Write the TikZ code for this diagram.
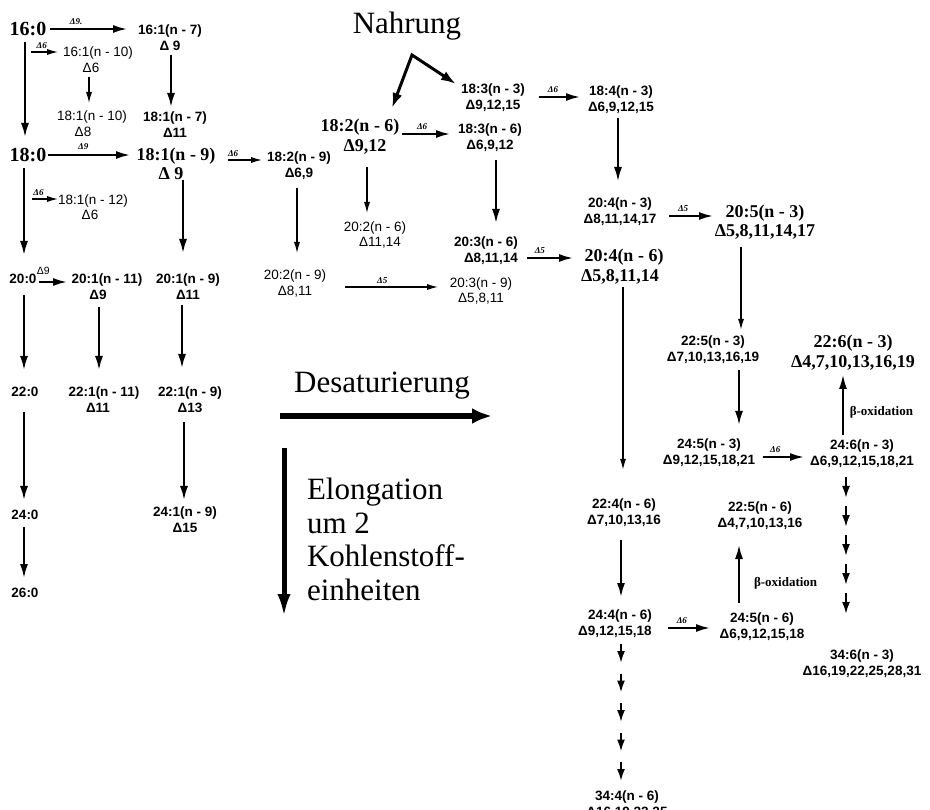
\documentclass[tikz,border=0pt]{standalone}
\usepackage{fontspec}
\setmainfont{Liberation Serif}
\newfontfamily\sansf{Liberation Sans}
\usetikzlibrary{arrows.meta,calc}
\newcommand\fBS{\sansf\bfseries\fontsize{13.5}{16}\selectfont}
\newcommand\fRS{\sansf\fontsize{13.5}{15.5}\selectfont}
\newcommand\fTB{\rmfamily\bfseries\fontsize{18}{19.5}\selectfont}
\newcommand\fTBL{\rmfamily\bfseries\fontsize{20}{22}\selectfont}
\newcommand\fTR{\rmfamily\fontsize{31}{33.7}\selectfont}
\newcommand\fD{\rmfamily\bfseries\itshape\fontsize{9}{10}\selectfont}
\newcommand\fDS{\sansf\fontsize{10.5}{12}\selectfont}
\newcommand\fBeta{\rmfamily\bfseries\fontsize{13}{14}\selectfont}
\begin{document}
\begin{tikzpicture}[x=1pt,y=-1pt,
  lab/.style={inner sep=0pt, outer sep=0pt, align=center},
  bs/.style={lab, font=\fBS},
  rs/.style={lab, font=\fRS},
  tb/.style={lab, font=\fTB},
  tbl/.style={lab, font=\fTBL},
  arr/.style={line width=2pt, -{Latex[length=14pt,width=8pt]}},
  tarr/.style={line width=1.1pt, -{Latex[length=11pt,width=6pt]}},
  charr/.style={line width=2pt, -{Latex[length=12pt,width=8pt]}},
  dl/.style={font=\fD, inner sep=0pt, above=3pt},
  beta/.style={font=\fBeta, inner sep=0pt, right=6pt},
  desatarr/.style={line width=6pt, -{Latex[length=20pt,width=16pt]}},
  elongarr/.style={line width=5pt, -{Latex[length=24pt,width=13pt]}},
  nahr/.style={line width=3pt, line join=miter, {Latex[length=15pt,width=10pt]}-{Latex[length=15pt,width=10pt]}},
]
\fill[white] (0,0) rectangle (930,810);
\useasboundingbox (0,0) rectangle (930,810);

% ---------- left block ----------
\node[tbl] (n160) at (28,29) {16:0};
\node[bs] (n161a) at (170,38) {16:1(n - 7)\\Δ 9};
\node[rs] (n161b) at (98,59.5) {16:1(n - 10)\\\hspace*{-14pt}Δ6};
\node[rs] (n181b) at (92,123.5) {18:1(n - 10)\\\hspace*{-18pt}Δ8};
\node[bs] (n181a) at (175,125) {18:1(n - 7)\\Δ11};
\node[tbl] (n180) at (28,155) {18:0};
\node[tb] (n181) at (176,164) {18:1(n - 9)\\\hspace*{-10pt}Δ 9};
\node[rs] (n181c) at (93,207) {18:1(n - 12)\\\hspace*{-6pt}Δ6};
\node[bs] (n200) at (23,279) {20:0};
\node[bs] (n201a) at (107,287) {20:1(n - 11)\\\hspace*{-18pt}Δ9};
\node[bs] (n201b) at (188,287) {20:1(n - 9)\\Δ11};
\node[bs] (n220) at (25,392) {22:0};
\node[bs] (n221a) at (104,400) {22:1(n - 11)\\\hspace*{-12pt}Δ11};
\node[bs] (n221b) at (190,400) {22:1(n - 9)\\Δ13};
\node[bs] (n240) at (25,515) {24:0};
\node[bs] (n241) at (185,520) {24:1(n - 9)\\Δ15};
\node[bs] (n260) at (25,593) {26:0};

% ---------- middle block ----------
\node[lab, font=\fTR] (nahrung) at (407,26) {Nahrung};
\node[bs] (n183a) at (493,97.5) {18:3(n - 3)\\Δ9,12,15};
\node[bs] (n184) at (621,99.5) {18:4(n - 3)\\Δ6,9,12,15};
\node[tb] (n182b) at (360,136.5) {18:2(n - 6)\\\hspace*{10pt}Δ9,12};
\node[bs] (n183b) at (490,138) {18:3(n - 6)\\Δ6,9,12};
\node[bs] (n182a) at (299,165.5) {18:2(n - 9)\\Δ6,9};
\node[rs] (n202b) at (375,235) {20:2(n - 6)\\\hspace*{10pt}Δ11,14};
\node[bs] (n203b) at (486,251) {20:3(n - 6)\\\hspace*{10pt}Δ8,11,14};
\node[rs] (n202a) at (295,283.5) {20:2(n - 9)\\Δ8,11};
\node[rs] (n203a) at (481,291) {20:3(n - 9)\\Δ5,8,11};

% ---------- right block ----------
\node[bs] (n204a) at (620,212) {20:4(n - 3)\\Δ8,11,14,17};
\node[tb] (n205) at (765,222) {20:5(n - 3)\\Δ5,8,11,14,17};
\node[tb] (n204b) at (624,266.5) {20:4(n - 6)\\\hspace*{-8pt}Δ5,8,11,14};
\node[bs] (n225a) at (713,350) {22:5(n - 3)\\Δ7,10,13,16,19};
\node[tb] (n226) at (853,352.5) {22:6(n - 3)\\Δ4,7,10,13,16,19};
\node[bs] (n245a) at (709,453) {24:5(n - 3)\\Δ9,12,15,18,21};
\node[bs] (n246) at (862,453.5) {24:6(n - 3)\\Δ6,9,12,15,18,21};
\node[bs] (n224) at (624,512.5) {22:4(n - 6)\\Δ7,10,13,16};
\node[bs] (n225b) at (760,515.5) {22:5(n - 6)\\Δ4,7,10,13,16};
\node[bs] (n244) at (620,624) {24:4(n - 6)\\\hspace*{-10pt}Δ9,12,15,18};
\node[bs] (n245b) at (762,627) {24:5(n - 6)\\Δ6,9,12,15,18};
\node[bs] (n346) at (862,663.5) {34:6(n - 3)\\Δ16,19,22,25,28,31};
\node[bs] (n344) at (627,804.5) {34:4(n - 6)\\Δ16,19,22,25};

% ---------- legend ----------
\node[lab, font=\fTR] (desat) at (382,386) {Desaturierung};
\node[lab, font=\fTR, align=left, anchor=north west] (elong) at (307,478) {Elongation\\um 2\\Kohlenstoff-\\einheiten};

% ---------- horizontal connectors ----------
\draw[arr] ([shift={(22,0)}]n160.center) -- ([shift={(-43,-9)}]n161a.center) node[dl,pos=0.34]{Δ9.};
\draw[tarr] ([shift={(3,23)}]n160.center) -- ([shift={(-40,-7.5)}]n161b.center) node[dl,pos=0.4]{Δ6};
\draw[arr] ([shift={(20,0)}]n180.center) -- ([shift={(-46,-9)}]n181.center) node[dl,pos=0.43,above=1pt]{Δ9};
\draw[tarr] ([shift={(4,44)}]n180.center) -- ([shift={(-35,-8)}]n181c.center) node[dl,pos=0.25]{Δ6};
\draw[tarr] ([shift={(52,-4)}]n181.center) -- ([shift={(-37,-5.5)}]n182a.center) node[dl,pos=0.15]{Δ6};
\draw[arr] ([shift={(16,3)}]n200.center) -- ([shift={(-40,-5)}]n201a.center) node[pos=0.15,above=6pt,font=\fDS,inner sep=0pt]{Δ9};
\draw[arr] ([shift={(42,-2.5)}]n182b.center) -- ([shift={(-40,-4)}]n183b.center) node[dl,pos=0.42]{Δ6};
\draw[arr] ([shift={(46,-0.5)}]n183a.center) -- ([shift={(-41,-2.5)}]n184.center) node[dl,pos=0.34]{Δ6};
\draw[tarr] ([shift={(50,3.5)}]n202a.center) -- ([shift={(-43,-4)}]n203a.center) node[dl,pos=0.4]{Δ5};
\draw[arr] ([shift={(41,7)}]n203b.center) -- ([shift={(-51,-8.5)}]n204b.center) node[dl,pos=0.28]{Δ5};
\draw[arr] ([shift={(49,4)}]n204a.center) -- ([shift={(-52,-6)}]n205.center) node[dl,pos=0.32]{Δ5};
\draw[arr] ([shift={(54,4)}]n245a.center) -- ([shift={(-58,3.5)}]n246.center) node[dl,pos=0.3]{Δ6};
\draw[arr] ([shift={(48,4)}]n244.center) -- ([shift={(-52,1)}]n245b.center) node[dl,pos=0.33]{Δ6};

% ---------- vertical connectors ----------
\draw[arr] ([shift={(-3,13)}]n160.center) -- ([shift={(-3,-18)}]n180.center);
\draw[tarr] ([shift={(-9,17.5)}]n161b.center) -- ([shift={(-3,-20.5)}]n181b.center);
\draw[arr] ([shift={(1,17)}]n161a.center) -- ([shift={(-4,-18)}]n181a.center);
\draw[arr] ([shift={(-4,13)}]n180.center) -- ([shift={(1,-24)}]n200.center);
\draw[arr] ([shift={(7,16)}]n181.center) -- ([shift={(-5,-34)}]n201b.center);
\draw[arr] ([shift={(1,16)}]n200.center) -- ([shift={(-1,-22)}]n220.center);
\draw[arr] ([shift={(-8,20)}]n201a.center) -- ([shift={(-5,-30)}]n221a.center);
\draw[arr] ([shift={(-6,18)}]n201b.center) -- ([shift={(-8,-32)}]n221b.center);
\draw[arr] ([shift={(-1,20)}]n220.center) -- ([shift={(-1,-15)}]n240.center);
\draw[arr] ([shift={(-6,22)}]n221b.center) -- ([shift={(-1,-20)}]n241.center);
\draw[arr] ([shift={(-1,12)}]n240.center) -- ([shift={(-1,-15)}]n260.center);
\draw[tarr] ([shift={(-2,22.5)}]n182a.center) -- ([shift={(2,-30.5)}]n202a.center);
\draw[tarr] ([shift={(7,30.5)}]n182b.center) -- ([shift={(-8,-22)}]n202b.center);
\draw[arr] ([shift={(6,22)}]n183b.center) -- ([shift={(10,-28)}]n203b.center);
\draw[arr, line width=1.6pt] ([shift={(-3,18.5)}]n184.center) -- ([shift={(-2,-31)}]n204a.center);
\draw[tarr, line width=1.4pt] ([shift={(-24,25)}]n205.center) -- ([shift={(28,-20)}]n225a.center);
\draw[tarr, line width=1.4pt] ([shift={(-1,20.5)}]n204b.center) -- ([shift={(-1,-42.5)}]n224.center);
\draw[arr] ([shift={(26,20)}]n225a.center) -- ([shift={(30,-28)}]n245a.center);
\draw[arr, line width=1.6pt] ([shift={(-19,-18.5)}]n246.center) -- ([shift={(-10,22.5)}]n226.center) node[beta,pos=0.38]{β-oxidation};
\draw[arr] ([shift={(-3,27.5)}]n224.center) -- ([shift={(1,-27)}]n244.center);
\draw[arr] ([shift={(-23,-24)}]n245b.center) -- ([shift={(-21,29.5)}]n225b.center) node[beta,pos=0.345,right=8pt]{β-oxidation};

% ---------- chains of elongation steps ----------
\foreach \k in {0,...,4}{
  \draw[charr] ([shift={(-16,23.5+29*\k)}]n246.center) -- ([shift={(-16,44.5+29*\k)}]n246.center);
  \draw[charr] ([shift={(1,20+29.5*\k)}]n244.center) -- ([shift={(1,39+29.5*\k)}]n244.center);
}

% ---------- Nahrung ----------
\coordinate (nap) at ([shift={(5,29)}]nahrung.center);
\draw[nahr] ([shift={(32,-28.5)}]n182b.center) -- (nap) -- ([shift={(-37,-13.5)}]n183a.center);

% ---------- legend arrows ----------
\draw[desatarr] ([shift={(-102,30)}]desat.center) -- ([shift={(110,30)}]desat.center);
\draw[elongarr] ([shift={(-23,-30)}]elong.north west) -- ([shift={(-23,140)}]elong.north west);
\end{tikzpicture}
\end{document}
